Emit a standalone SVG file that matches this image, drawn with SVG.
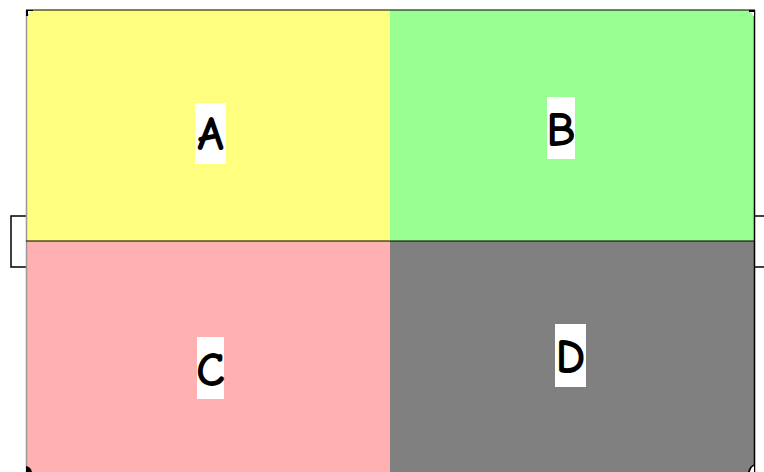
<svg xmlns="http://www.w3.org/2000/svg" width="764" height="472" viewBox="0 0 764 472">
<style>
.lbl{font-family:"Comic Neue","DejaVu Sans","Liberation Sans",sans-serif;font-size:48px;font-weight:bold;fill:#000;text-anchor:middle;dominant-baseline:central}
.box{fill:#fff}
.edge{stroke:#000;stroke-width:1.5;fill:none}
</style>
<rect width="764" height="472" fill="#fff"/>
<g id="connectors">
<polyline class="edge" points="26,216 11,216 11,267 26,267"/>
<line class="edge" x1="755" y1="216" x2="764" y2="216"/>
<line class="edge" x1="755" y1="267" x2="764" y2="267"/>
</g>
<g id="A">
<rect x="26" y="10" width="364" height="231" fill="#ffff7f"/>
<rect class="box" x="195" y="103" width="31" height="61"/>
<text class="lbl" x="210.5" y="134">A</text>
</g>
<g id="B">
<rect x="390" y="10" width="365" height="231" fill="#99ff93"/>
<rect class="box" x="547" y="97" width="28" height="62"/>
<text class="lbl" x="561" y="130">B</text>
</g>
<g id="C">
<rect x="26" y="241" width="364" height="231" fill="#ffb1b1"/>
<rect class="box" x="197" y="337" width="27" height="62"/>
<text class="lbl" x="210.5" y="370">C</text>
</g>
<g id="D">
<rect x="390" y="241" width="365" height="231" fill="#808080"/>
<rect class="box" x="555" y="324" width="31" height="63"/>
<text class="lbl" x="570.5" y="357">D</text>
</g>
<g id="frame">
<line x1="26" y1="10" x2="755" y2="10" stroke="#000" stroke-width="1.2"/>
<line x1="26.5" y1="10" x2="26.5" y2="472" stroke="#999" stroke-width="1.5"/>
<line x1="754.5" y1="10" x2="754.5" y2="472" stroke="#000" stroke-width="1.5"/>
<line x1="26" y1="241" x2="755" y2="241" stroke="#000" stroke-width="1.2"/>
<path d="M26,10 h7 v1 q-4,0 -5,5 h-2 z" fill="#000"/>
<path d="M28,11 h5 q-4,1 -5,5 z" fill="#fff"/>
<path d="M755,10 v8 h-1 q0,-4 -5,-6 v-2 z" fill="#000"/>
<path d="M754,12 v5 q-1,-3 -5,-5 z" fill="#fff"/>
<path d="M26,466 q5,1 6,6 h-6 z" fill="#000"/>
<path d="M755,464 v8 h-7 q1,-6 7,-8 z" fill="#000"/>
<path d="M754,466 v6 h-4 q1,-5 4,-6 z" fill="#fff"/>
</g>
</svg>
